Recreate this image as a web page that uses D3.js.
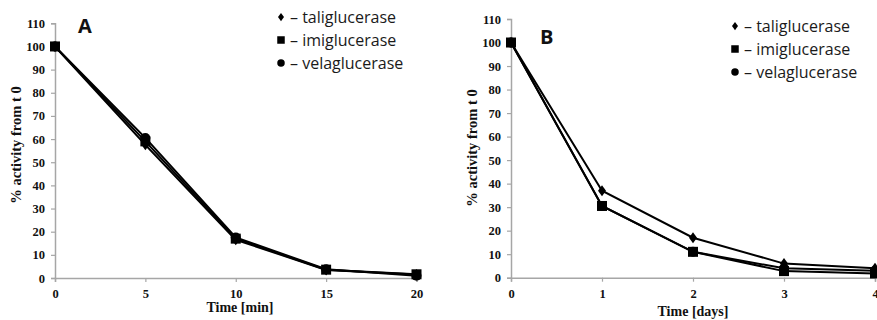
<!DOCTYPE html>
<html><head><meta charset="utf-8">
<script src="https://cdn.jsdelivr.net/npm/d3@7"></script>
<style>body{margin:0;background:#fff}</style>
</head><body>
<svg id="chart" width="877" height="320"></svg>
<script>
const seriesNames = ["taliglucerase", "imiglucerase", "velaglucerase"];
const markerTypes = ["diamond", "square", "circle"];
const yTicks = [0,10,20,30,40,50,60,70,80,90,100,110];

const timeA = [0, 5, 10, 15, 20];
const taliA = [100, 57.5, 16.5, 3.5, 1.5];
const imiA  = [100, 59, 17, 3.6, 1.6];
const velaA = [100, 60.5, 17.5, 3.8, 1];

const timeB = [0, 1, 2, 3, 4];
const taliB = [100, 37, 17, 6, 4];
const imiB  = [100, 30.5, 11, 2.8, 1.8];
const velaB = [100, 30.5, 11, 4, 3];

const svg = d3.select("#chart");
const serif = "'Liberation Serif','Times New Roman',serif";
const sans = "'Open Sans',sans-serif";

function marker(g, type, x, y, s) {
  s = s || 1;
  if (type === "circle") g.append("circle").attr("cx", x).attr("cy", y).attr("r", 5*s).attr("fill", "#000");
  else if (type === "square") g.append("rect").attr("x", x-5*s).attr("y", y-5*s).attr("width", 10*s).attr("height", 10*s).attr("fill", "#000");
  else g.append("path").attr("d", `M${x},${y-5.5*s}L${x+4*s},${y}L${x},${y+5.5*s}L${x-4*s},${y}Z`).attr("fill", "#000");
}

function panel(cfg) {
  const x = d3.scaleLinear().domain(cfg.xDomain).range(cfg.xRange);
  const y = d3.scaleLinear().domain([0, 110]).range(cfg.yRange);
  const g = svg.append("g");

  const yAxis = g.append("g").attr("transform", `translate(${cfg.xRange[0]},0)`)
    .call(d3.axisLeft(y).tickValues(yTicks).tickSize(4).tickPadding(6));
  const xAxis = g.append("g").attr("transform", `translate(0,${cfg.yRange[0]})`)
    .call(d3.axisBottom(x).tickValues(cfg.xTicks).tickSize(4).tickPadding(7).tickFormat(d3.format("d")));
  [yAxis, xAxis].forEach(a => {
    a.select(".domain").attr("stroke", "#a6a6a6").attr("stroke-width", 1.5);
    a.selectAll(".tick line").attr("stroke", "#a6a6a6").attr("stroke-width", 1.2);
    a.selectAll("text").attr("fill", "#111").style("font-family", serif).style("font-weight", "bold").style("font-size", "12.5px");
  });

  const line = d3.line().x((d, i) => x(cfg.time[i])).y(d => y(d));
  cfg.series.forEach((vals, si) => {
    g.append("path").attr("d", line(vals)).attr("fill", "none").attr("stroke", "#000").attr("stroke-width", 2);
  });
  cfg.series.forEach((vals, si) => {
    vals.forEach((v, i) => marker(g, markerTypes[si], x(cfg.time[i]), y(v)));
  });

  g.append("text").attr("x", cfg.titleX).attr("y", cfg.titleY).attr("text-anchor", "middle")
    .style("font-family", serif).style("font-weight", "bold").style("font-size", "14px").attr("fill", "#111")
    .text(cfg.xTitle);
  g.append("text").attr("transform", `translate(${cfg.yTitleX},${cfg.yTitleY}) rotate(-90)`).attr("text-anchor", "middle")
    .style("font-family", serif).style("font-weight", "bold").style("font-size", "14.5px").attr("fill", "#111")
    .text("% activity from t 0");
  g.append("text").attr("x", cfg.letterX).attr("y", cfg.letterY)
    .style("font-family", sans).style("font-weight", "bold").style("font-size", "20px").attr("fill", "#111")
    .text(cfg.letter);

  seriesNames.forEach((name, i) => {
    const ly = cfg.legY + i * 23;
    marker(g, markerTypes[i], cfg.legX, ly, 0.75);
    g.append("text").attr("x", cfg.legX + 9).attr("y", ly + 5.5)
      .style("font-family", sans).style("font-size", "16px").attr("fill", "#1a1a1a")
      .text("– " + name);
  });
}

panel({xDomain: [0, 20], xRange: [55, 416.5], yRange: [278, 23.3], xTicks: timeA, time: timeA,
  series: [taliA, imiA, velaA], xTitle: "Time [min]", titleX: 240, titleY: 312,
  yTitleX: 21, yTitleY: 145, letter: "A", letterX: 78, letterY: 33, legX: 281, legY: 17});
panel({xDomain: [0, 4], xRange: [511, 875], yRange: [277.7, 19], xTicks: timeB, time: timeB,
  series: [taliB, imiB, velaB], xTitle: "Time [days]", titleX: 693, titleY: 316,
  yTitleX: 477, yTitleY: 148, letter: "B", letterX: 540, letterY: 44, legX: 735, legY: 26});
</script>
</body></html>
